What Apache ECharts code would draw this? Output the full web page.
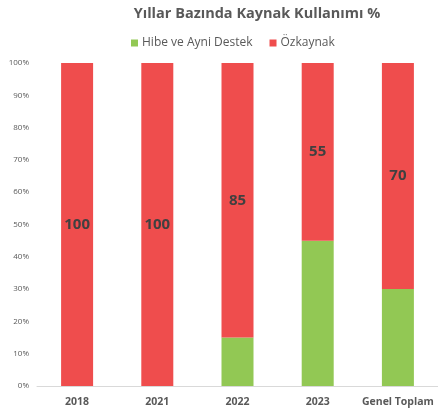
<!DOCTYPE html>
<html>
<head>
<meta charset="utf-8">
<script src="https://cdn.jsdelivr.net/npm/echarts@6/dist/echarts.min.js"></script>
<style>
  html, body { margin: 0; padding: 0; background: #fff; }
  #chart { width: 438px; height: 414px; }
</style>
</head>
<body>
<div id="chart"></div>
<script>
// Yıllar bazında kaynak kullanımı (%)
const categories = ['2018', '2021', '2022', '2023', 'Genel Toplam']
const hibeValues = [0, 0, 15, 45, 30]
const ozkaynakValues = [100, 100, 85, 55, 70]

const FONT = '"Open Sans", Lato, sans-serif'
const GREY = '#595959'

const chart = echarts.init(document.getElementById('chart'))

chart.setOption({
  animation: false,
  textStyle: {fontFamily: FONT},
  title: {
    text: 'Yıllar Bazında Kaynak Kullanımı %',
    left: 252,
    top: 1,
    textAlign: 'center',
    textStyle: {fontFamily: FONT, fontSize: 14.5, fontWeight: 'bold', color: GREY}
  },
  legend: {
    left: 126,
    top: 32,
    itemWidth: 7,
    itemHeight: 7,
    itemGap: 17,
    icon: 'rect',
    textStyle: {fontFamily: FONT, fontSize: 12, color: GREY, padding: [0, 0, 0, -1]},
    data: ['Hibe ve Ayni Destek', 'Özkaynak']
  },
  grid: {left: 37, right: -7, top: 63, bottom: 28, containLabel: false},
  xAxis: {
    type: 'category',
    data: categories,
    axisLine: {lineStyle: {color: '#d9d9d9'}},
    axisTick: {show: false},
    axisLabel: {interval: 0, fontFamily: FONT, fontSize: 10.5, fontWeight: 'bold', color: GREY, margin: 11}
  },
  yAxis: {
    type: 'value',
    min: 0,
    max: 100,
    interval: 10,
    splitLine: {show: false},
    axisLine: {show: false},
    axisTick: {show: false},
    axisLabel: {fontFamily: FONT, fontSize: 8, color: GREY, formatter: '{value}%', margin: 8}
  },
  series: [
    {
      name: 'Hibe ve Ayni Destek',
      type: 'bar',
      stack: 'total',
      barWidth: 32,
      data: hibeValues,
      itemStyle: {color: '#92c854'}
    },
    {
      name: 'Özkaynak',
      type: 'bar',
      stack: 'total',
      barWidth: 32,
      data: ozkaynakValues,
      itemStyle: {color: '#ef4d4d'},
      label: {
        show: true,
        position: 'inside',
        fontFamily: FONT,
        fontSize: 15,
        fontWeight: 'bold',
        color: '#404040'
      }
    }
  ]
})
</script>
</body>
</html>
